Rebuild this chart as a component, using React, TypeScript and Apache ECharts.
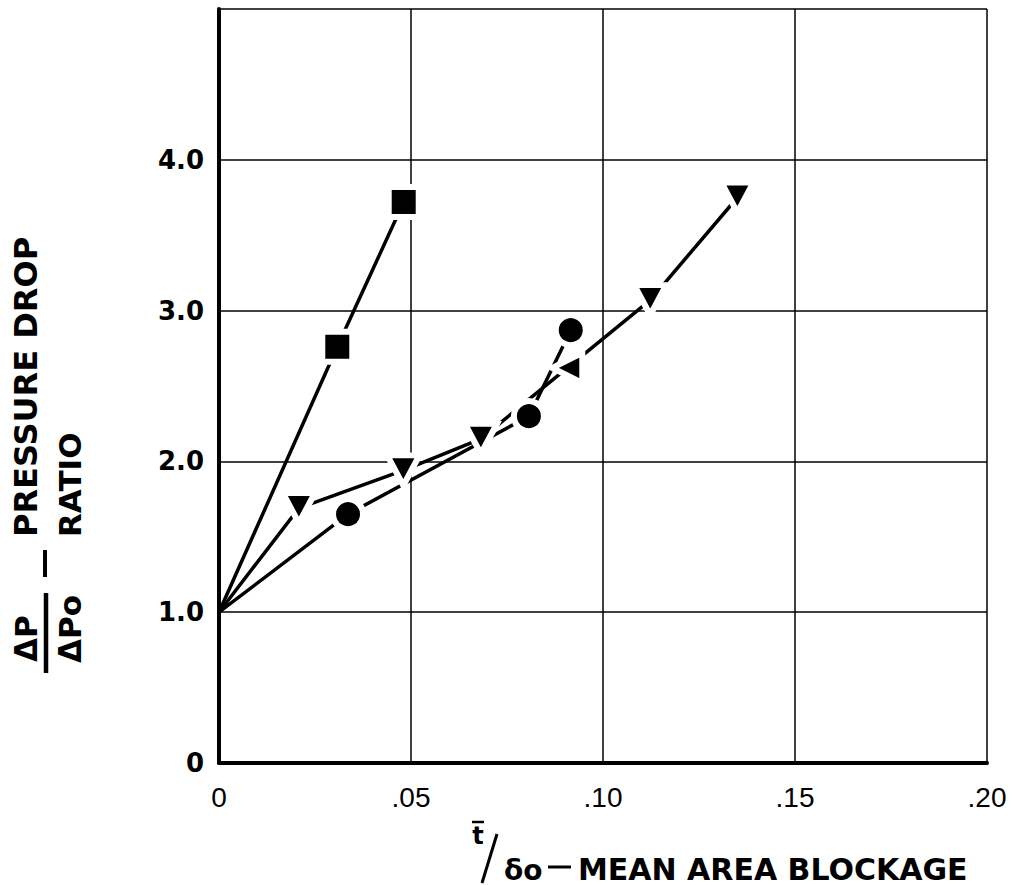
import React, { useEffect, useRef } from "react";
import * as echarts from "echarts";

// ---- data ----
const xTickLabels = ["0", ".05", ".10", ".15", ".20"];
const yTickLabels = ["0", "1.0", "2.0", "3.0", "4.0", ""];

const squareX = [0, 0.0308, 0.0481];
const squareY = [1.0, 2.76, 3.72];
const squareMarks = ["none", "square", "square"];

const circleX = [0, 0.0336, 0.0807, 0.0916];
const circleY = [1.0, 1.65, 2.3, 2.87];
const circleMarks = ["none", "circle", "circle", "circle"];

const triX = [0, 0.0208, 0.048, 0.0682, 0.0907, 0.1123, 0.135];
const triY = [1.0, 1.69, 1.94, 2.15, 2.62, 3.07, 3.75];
const triMarks = ["none", "down", "down", "down", "left", "down", "down"];

const INK = "#000";

function buildData(xs: number[], ys: number[], marks: string[]) {
  return xs.map((x, i) => {
    const m = marks[i];
    const item: any = { value: [x, ys[i]] };
    if (m === "none") {
      item.symbol = "none";
    } else if (m === "square") {
      item.symbol = "rect";
      item.symbolSize = 30;
    } else if (m === "circle") {
      item.symbol = "circle";
      item.symbolSize = 30;
    } else if (m === "down") {
      item.symbol = "triangle";
      item.symbolRotate = 180;
      item.symbolSize = [32, 30];
    } else if (m === "left") {
      item.symbol = "triangle";
      item.symbolRotate = 90;
      item.symbolSize = [30, 30];
    }
    return item;
  });
}

function lineSeries(name: string, xs: number[], ys: number[], marks: string[]) {
  return {
    name,
    type: "line",
    data: buildData(xs, ys, marks),
    showAllSymbol: true,
    lineStyle: { color: INK, width: 3.5 },
    itemStyle: { color: INK, borderColor: "#fff", borderWidth: 6, opacity: 1 },
    emphasis: { disabled: true },
  };
}

export default function App() {
  const ref = useRef<HTMLDivElement>(null);
  useEffect(() => {
    if (!ref.current) return;
    const chart = echarts.init(ref.current, undefined, { renderer: "svg" });
    const titleFont = "DejaVu Sans";
    chart.setOption({
      animation: false,
      backgroundColor: "#fff",
      grid: { left: 219, right: 28, top: 9, bottom: 122, containLabel: false },
      xAxis: {
        type: "value",
        min: 0,
        max: 0.2,
        interval: 0.05,
        axisLine: { show: true, onZero: false, lineStyle: { color: INK, width: 4 } },
        axisTick: { show: false },
        splitLine: { show: true, lineStyle: { color: INK, width: 1.5 } },
        axisLabel: {
          margin: 20,
          color: INK,
          fontFamily: "Liberation Sans",
          fontSize: 28,
          formatter: (v: number) => xTickLabels[Math.round(v / 0.05)] ?? "",
        },
      },
      yAxis: {
        type: "value",
        min: 0,
        max: 5,
        interval: 1,
        axisLine: { show: true, onZero: false, lineStyle: { color: INK, width: 4 } },
        axisTick: { show: false },
        splitLine: { show: true, lineStyle: { color: INK, width: 1.5 } },
        axisLabel: {
          margin: 15,
          color: INK,
          fontFamily: titleFont,
          fontWeight: "bold",
          fontSize: 26,
          formatter: (v: number) => yTickLabels[Math.round(v)] ?? "",
        },
      },
      series: [
        lineSeries("squares", squareX, squareY, squareMarks),
        lineSeries("circles", circleX, circleY, circleMarks),
        lineSeries("triangles", triX, triY, triMarks),
      ],
      graphic: [
        // y-axis title (rotated)
        {
          type: "text",
          x: 26,
          y: 537,
          rotation: Math.PI / 2,
          style: {
            text: "PRESSURE DROP",
            fill: INK,
            font: `bold 32px "${titleFont}"`,
            textAlign: "left",
            textVerticalAlign: "middle",
          },
        },
        {
          type: "text",
          x: 70,
          y: 537,
          rotation: Math.PI / 2,
          style: {
            text: "RATIO",
            fill: INK,
            font: `bold 31px "${titleFont}"`,
            textAlign: "left",
            textVerticalAlign: "middle",
          },
        },
        {
          type: "line",
          shape: { x1: 45, y1: 550, x2: 45, y2: 577 },
          style: { stroke: INK, lineWidth: 4 },
        },
        {
          type: "line",
          shape: { x1: 46, y1: 593, x2: 46, y2: 673 },
          style: { stroke: INK, lineWidth: 4.5 },
        },
        {
          type: "text",
          x: 26,
          y: 662,
          rotation: Math.PI / 2,
          style: {
            text: "ΔP",
            fill: INK,
            font: `bold 31px "${titleFont}"`,
            textAlign: "left",
            textVerticalAlign: "middle",
          },
        },
        {
          type: "text",
          x: 70,
          y: 663,
          rotation: Math.PI / 2,
          style: {
            text: "ΔPo",
            fill: INK,
            font: `bold 31px "${titleFont}"`,
            textAlign: "left",
            textVerticalAlign: "middle",
          },
        },
        // x-axis title
        {
          type: "text",
          x: 478,
          y: 836,
          style: {
            text: "t",
            fill: INK,
            font: `bold 24px "${titleFont}"`,
            textAlign: "center",
            textVerticalAlign: "middle",
          },
        },
        {
          type: "line",
          shape: { x1: 472, y1: 822, x2: 484, y2: 822 },
          style: { stroke: INK, lineWidth: 2.5 },
        },
        {
          type: "line",
          shape: { x1: 482, y1: 883, x2: 497, y2: 834 },
          style: { stroke: INK, lineWidth: 3 },
        },
        {
          type: "text",
          x: 504,
          y: 870,
          style: {
            text: "δo",
            fill: INK,
            font: `bold 28px "${titleFont}"`,
            textAlign: "left",
            textVerticalAlign: "middle",
          },
        },
        {
          type: "line",
          shape: { x1: 548, y1: 867, x2: 571, y2: 867 },
          style: { stroke: INK, lineWidth: 3 },
        },
        {
          type: "text",
          x: 578,
          y: 869,
          style: {
            text: "MEAN AREA BLOCKAGE",
            fill: INK,
            font: `bold 30px "${titleFont}"`,
            textAlign: "left",
            textVerticalAlign: "middle",
          },
        },
      ],
    });
    return () => chart.dispose();
  }, []);
  return (
    <div
      ref={ref}
      style={{ position: "absolute", left: 0, top: 0, width: 1015, height: 885, background: "#fff" }}
    />
  );
}
